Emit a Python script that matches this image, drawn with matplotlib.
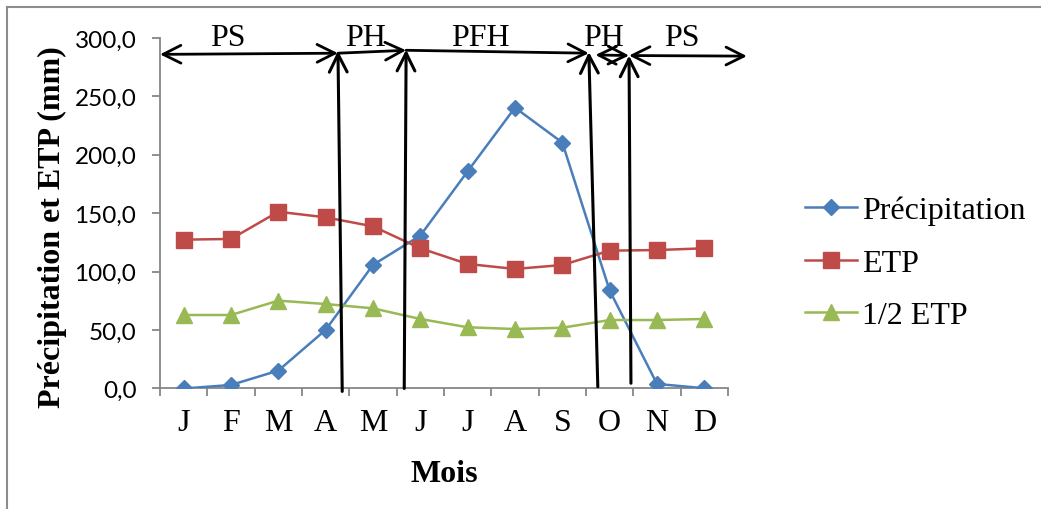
import numpy as np
import matplotlib
matplotlib.use("Agg")
import matplotlib.pyplot as plt
from matplotlib.lines import Line2D
from matplotlib.patches import FancyArrowPatch

mois = ["J", "F", "M", "A", "M", "J", "J", "A", "S", "O", "N", "D"]
precipitation = [0.0, 3.0, 15.3, 50.2, 105.8, 130.9, 185.9, 240.4, 210.5, 83.9, 3.9, 0.2]
etp = [127.4, 128.0, 151.3, 146.5, 138.8, 120.0, 106.6, 102.3, 105.7, 118.0, 118.5, 120.0]
demi_etp = [62.9, 62.9, 75.2, 72.3, 68.6, 59.5, 52.4, 50.9, 52.0, 58.6, 58.6, 59.5]

# limites des périodes (en mois, bas -> haut)
limites = [((3.35, -2.5), (3.26, 289.0)),
           ((4.66, 0.0), (4.70, 290.0)),
           ((8.75, 1.5), (8.56, 288.0)),
           ((9.45, 4.5), (9.41, 285.0))]
# flèches horizontales des périodes : début, fin, style
periodes = [((-0.5, 286.0), (3.26, 287.0), "<->"),
            ((3.26, 287.0), (4.70, 289.5), "->"),
            ((4.70, 289.5), (8.56, 287.0), "->"),
            ((8.70, 285.5), (9.41, 285.0), "<->"),
            ((9.41, 285.0), (11.90, 284.5), "<->")]
noms_periodes = ["PS", "PH", "PFH", "PH", "PS"]
x_noms = [0.94, 3.85, 6.26, 8.88, 10.53]

bleu = "#4A7EBB"
rouge = "#BE4B48"
vert = "#98B954"
gris = "#868686"
serif = "Liberation Serif"

fig = plt.figure(figsize=(10.41, 5.10), dpi=100)
ax = fig.add_axes([0.1537, 0.2363, 0.5456, 0.6872])

x = np.arange(len(mois))
ax.plot(x, precipitation, color=bleu, lw=1.8, marker="D", ms=8.2, label="Précipitation", zorder=3)
ax.plot(x, etp, color=rouge, lw=1.8, marker="s", ms=11.3, label="ETP", zorder=3)
ax.plot(x, demi_etp, color=vert, lw=1.8, marker="^", ms=11.5, label="1/2 ETP", zorder=3)

ax.set_xlim(-0.5, 11.5)
ax.set_ylim(0, 300)

ax.set_xticks(np.arange(-0.5, 12, 1))
ax.set_xticklabels([])
ax.set_xticks(x, minor=True)
ax.set_xticklabels(mois, minor=True, fontfamily=serif, fontsize=23)
ax.tick_params(axis="x", which="major", length=6, width=1.3, color=gris, direction="out")
ax.tick_params(axis="x", which="minor", length=0, pad=14)

ax.set_yticks(np.arange(0, 301, 50))
ax.set_yticklabels([f"{v:.1f}".replace(".", ",") for v in np.arange(0, 301, 50)],
                   fontfamily="Lato", fontsize=17.5)
ax.tick_params(axis="y", length=6, width=1.3, color=gris, direction="out", pad=11)

for s in ["top", "right"]:
    ax.spines[s].set_visible(False)
for s in ["left", "bottom"]:
    ax.spines[s].set_color(gris)
    ax.spines[s].set_linewidth(1.3)

# flèches des périodes
for bas, haut in limites:
    ax.add_patch(FancyArrowPatch(bas, haut, arrowstyle="->,head_length=0.4,head_width=0.2",
                                 mutation_scale=32, lw=2.2, color="black",
                                 shrinkA=0, shrinkB=0, clip_on=False, zorder=4))
for debut, fin, style in periodes:
    ax.add_patch(FancyArrowPatch(debut, fin, arrowstyle=style + ",head_length=0.4,head_width=0.2",
                                 mutation_scale=32, lw=2.0, color="black",
                                 shrinkA=0, shrinkB=0, clip_on=False, zorder=4))
for nom, xn in zip(noms_periodes, x_noms):
    ax.text(xn, 294, nom, ha="center", va="baseline", fontfamily=serif, fontsize=23,
            clip_on=False)

fig.text(444 / 1041, 1 - 482 / 510, "Mois", ha="center", va="baseline",
         fontfamily=serif, fontsize=23, fontweight="bold")
fig.text(52 / 1041, 1 - 227 / 510, "Précipitation et ETP (mm)", rotation=90,
         ha="center", va="center", fontfamily=serif, fontsize=23, fontweight="bold")

ax.legend(loc="center left", bbox_to_anchor=(805 / 1041, 1 - 264 / 510),
          bbox_transform=fig.transFigure, frameon=False, borderpad=0, borderaxespad=0,
          handlelength=1.63, handletextpad=0.15, labelspacing=0.72,
          prop={"family": serif, "size": 23})

# cadre du graphique
fig.add_artist(Line2D([7 / 1041, 1], [1 - 8 / 510, 1 - 8 / 510], color="#8C8C8C", lw=1.5))
fig.add_artist(Line2D([7 / 1041, 7 / 1041], [0, 1 - 8 / 510], color="#8C8C8C", lw=1.5))

fig.savefig("out.png", dpi=100)
